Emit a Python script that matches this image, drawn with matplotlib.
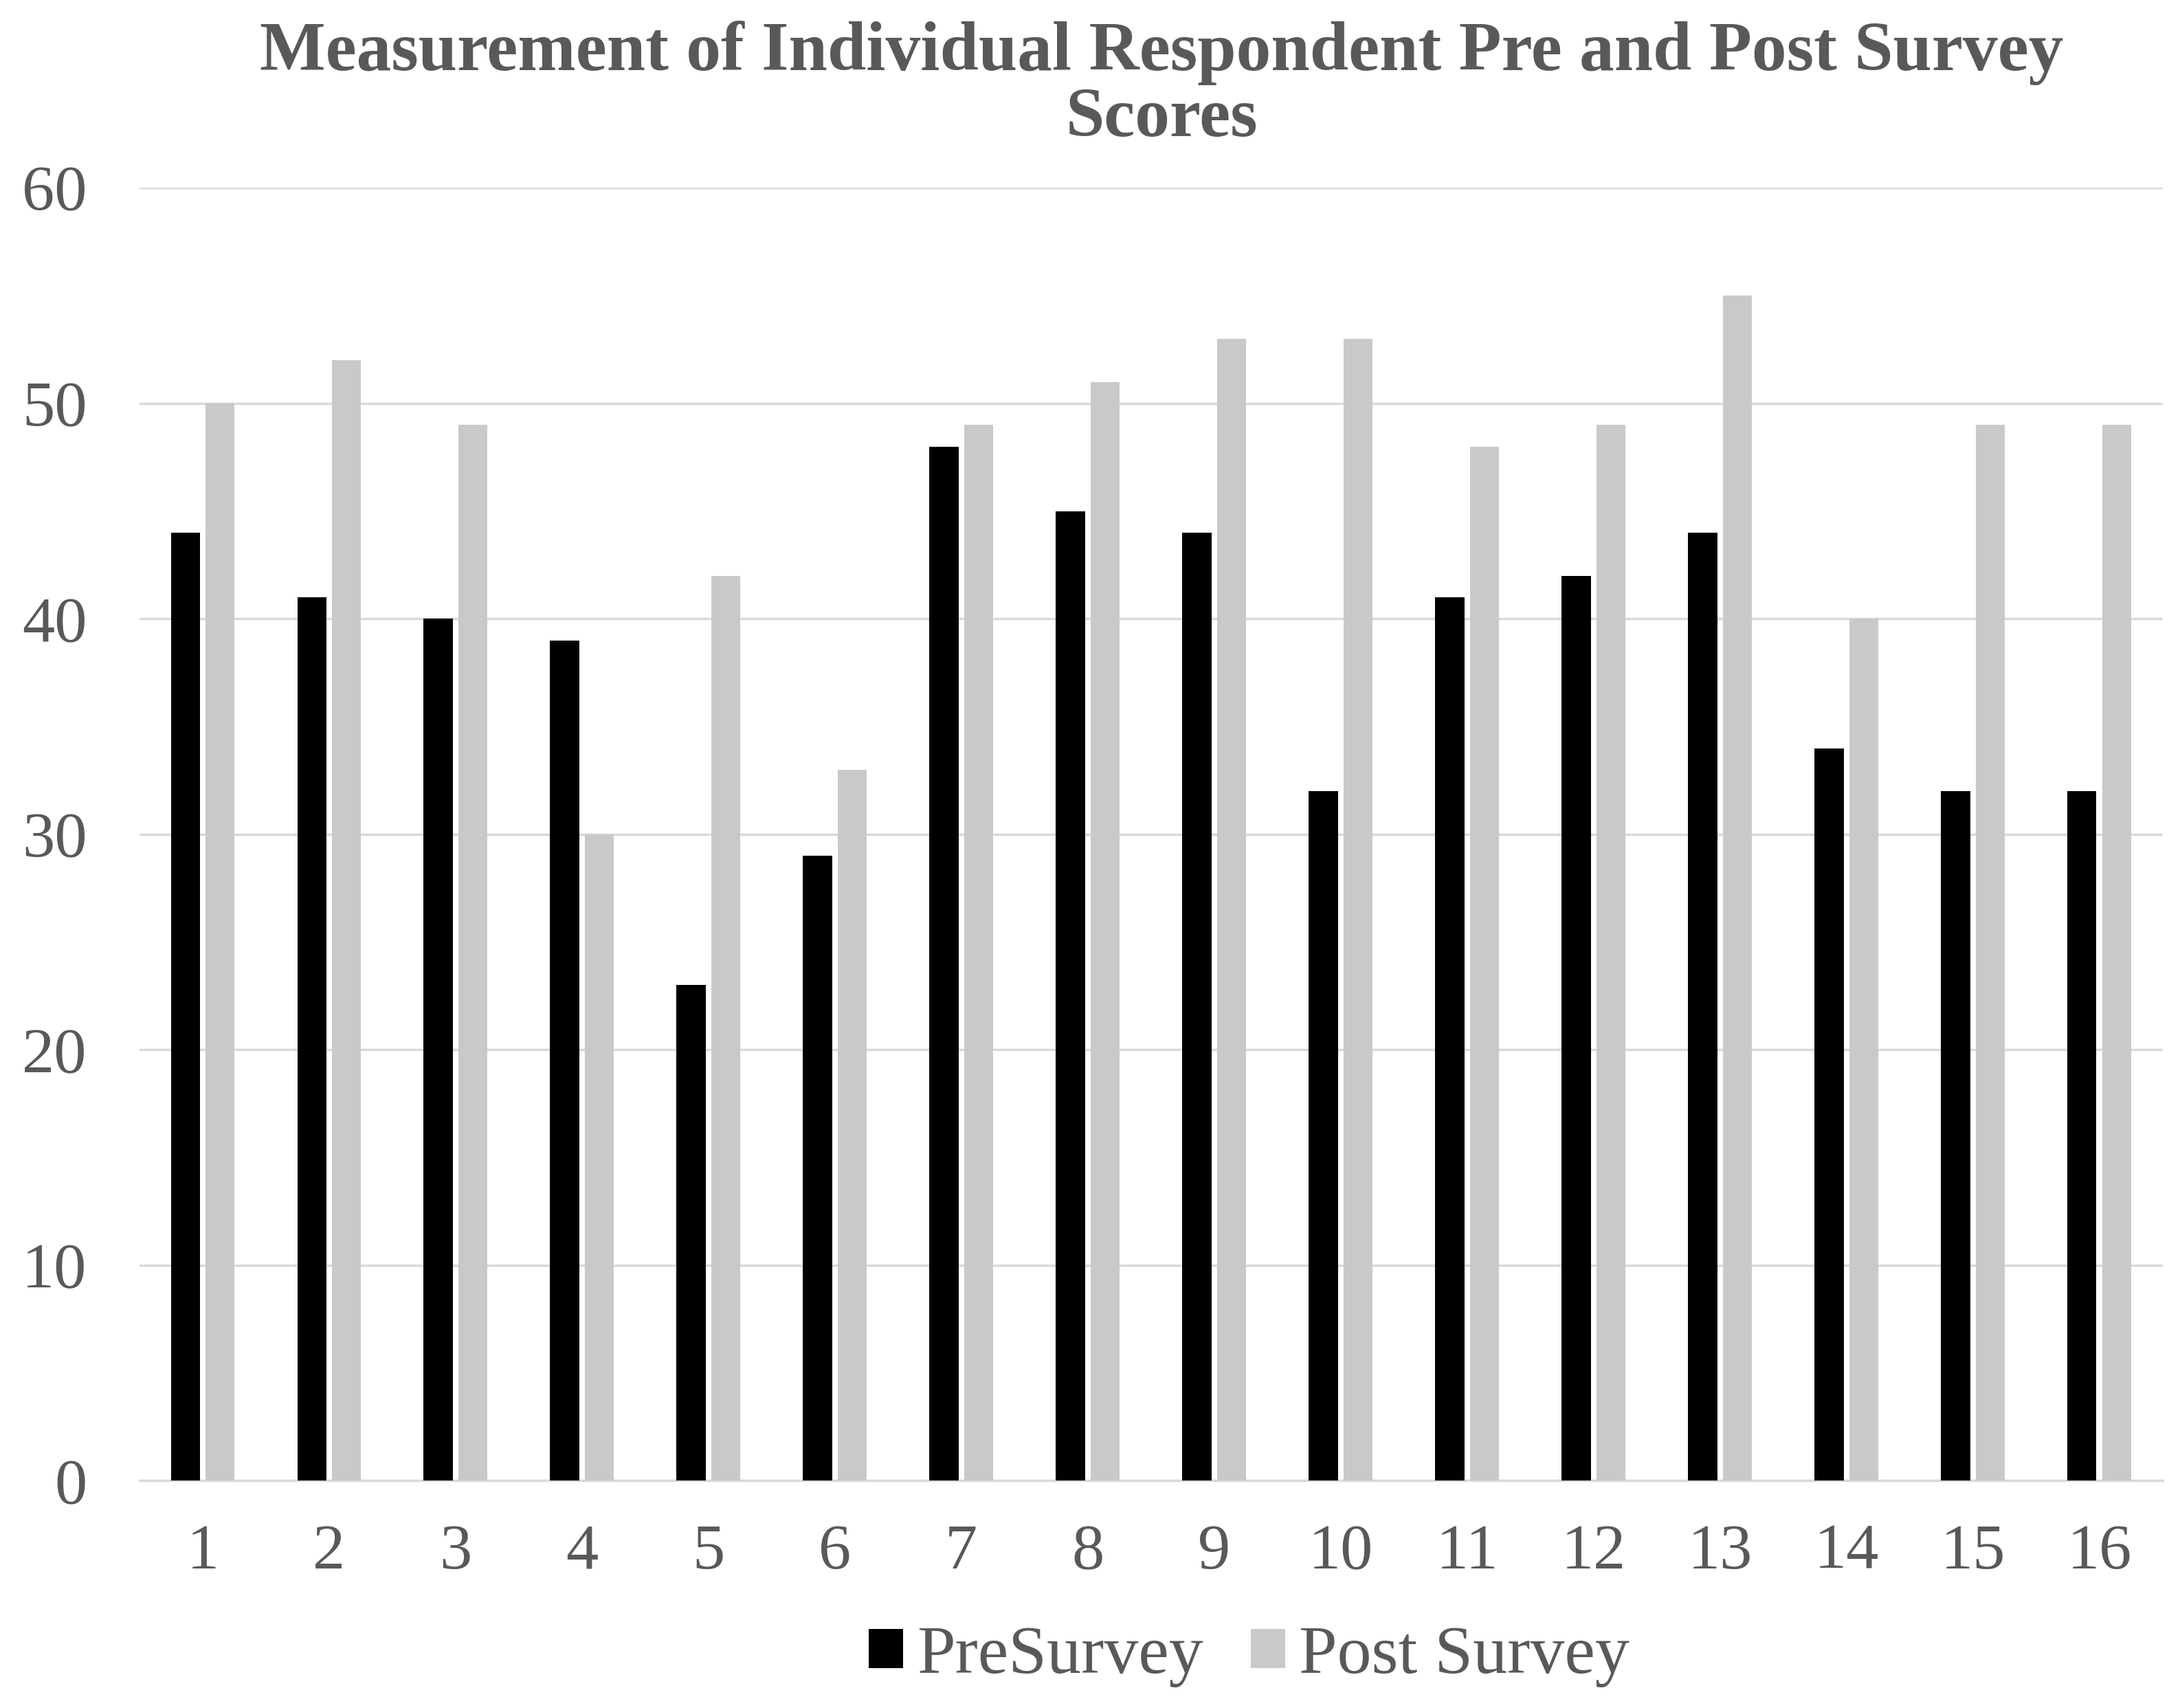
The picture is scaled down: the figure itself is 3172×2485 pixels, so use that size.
import matplotlib
matplotlib.use("Agg")
import matplotlib.pyplot as plt
import numpy as np

plt.rcParams['font.family'] = ['Liberation Serif', 'DejaVu Serif']

# respondent numbers and scores
respondents = [str(i) for i in range(1, 17)]
pre_survey = [44, 41, 40, 39, 23, 29, 48, 45, 44, 32, 41, 42, 44, 34, 32, 32]
post_survey = [50, 52, 49, 30, 42, 33, 49, 51, 53, 53, 48, 49, 55, 40, 49, 49]
series_names = ['PreSurvey', 'Post Survey']

text_col = '#595959'
grid_col = '#d9d9d9'

fig = plt.figure(figsize=(31.72, 24.85), dpi=100)
ax = fig.add_axes([0.064, 0.133, 0.928, 0.757])

x = np.arange(len(respondents))
w = 0.23
gap = 0.045
ax.bar(x - (w + gap) / 2, pre_survey, w, color='black', label=series_names[0], zorder=3)
ax.bar(x + (w + gap) / 2, post_survey, w, color='#c9c9c9', label=series_names[1], zorder=3)

ax.set_xlim(-0.5, len(respondents) - 0.5)
ax.set_ylim(0, 60)
ax.set_yticks(range(0, 61, 10))
ax.set_xticks(x)
ax.set_xticklabels(respondents)
ax.yaxis.grid(True, color=grid_col, linewidth=2.5, zorder=0)
for s in ['top', 'right', 'left']:
    ax.spines[s].set_visible(False)
ax.spines['bottom'].set_color(grid_col)
ax.spines['bottom'].set_linewidth(2.5)
ax.tick_params(axis='both', length=0, labelsize=68, colors=text_col)
ax.tick_params(axis='x', pad=45)
ax.tick_params(axis='y', pad=55)

fig.text(0.533, 0.988, 'Measurement of Individual Respondent Pre and Post Survey\nScores',
         ha='center', va='top', fontsize=73, fontweight='bold', color=text_col,
         linespacing=1.05)

leg = fig.legend(loc='center', bbox_to_anchor=(0.573, 0.03), ncol=2, frameon=False,
                 fontsize=72, handlelength=0.5, handleheight=0.5, handletextpad=0.2,
                 columnspacing=0.7, labelcolor=text_col)

fig.savefig('out.png', dpi=100, facecolor='white')
